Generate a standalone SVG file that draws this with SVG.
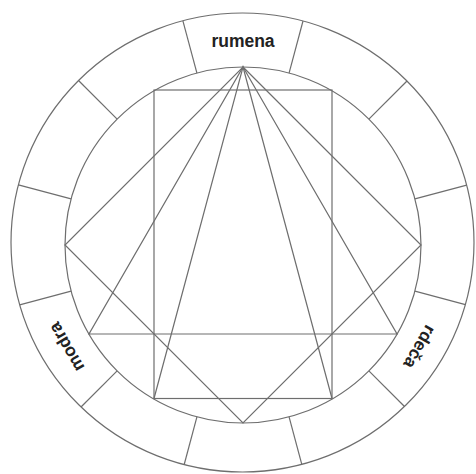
<svg xmlns="http://www.w3.org/2000/svg" width="476" height="474" viewBox="0 0 476 474">
<style>
.l{fill:none;stroke:#6e6e6e;stroke-width:1.2;stroke-linejoin:miter}
.t{font-family:"Liberation Sans",Arial,sans-serif;font-weight:bold;font-size:17.5px;fill:#222;text-anchor:middle}
</style>
<rect width="476" height="474" fill="#fff"/>
<g id="ring">
<ellipse class="l" cx="242.5" cy="242.5" rx="231.5" ry="229.5"/>
<circle class="l" cx="243" cy="245" r="178"/>
</g>
<g id="dividers">
<line class="l" x1="289.07" y1="73.07" x2="303.0" y2="21.0"/>
<line class="l" x1="368.86" y1="119.14" x2="407.0" y2="81.0"/>
<line class="l" x1="414.93" y1="198.93" x2="466.7" y2="185.1"/>
<line class="l" x1="414.93" y1="291.07" x2="465.4" y2="304.6"/>
<line class="l" x1="368.86" y1="370.86" x2="404.5" y2="406.5"/>
<line class="l" x1="289.07" y1="416.93" x2="301.8" y2="464.3"/>
<line class="l" x1="196.93" y1="416.93" x2="184.2" y2="464.5"/>
<line class="l" x1="117.14" y1="370.86" x2="81.0" y2="407.0"/>
<line class="l" x1="71.07" y1="291.07" x2="19.7" y2="304.8"/>
<line class="l" x1="71.07" y1="198.93" x2="18.4" y2="184.8"/>
<line class="l" x1="117.14" y1="119.14" x2="78.5" y2="80.5"/>
<line class="l" x1="196.93" y1="73.07" x2="182.9" y2="20.8"/>
</g>
<g id="square">
<polygon class="l" points="243,67 421,245 243,423 65,245"/>
</g>
<g id="rectangle">
<rect class="l" x="154" y="90" width="178" height="308.5"/>
</g>
<g id="triangle">
<polygon class="l" points="243,67 397,334 89,334"/>
</g>
<g id="tall-triangle">
<polygon class="l" points="243,67 332,398.5 154,398.5"/>
</g>
<g id="labels">
<text class="t" x="243" y="47">rumena</text>
<text class="t" x="243" y="47" transform="rotate(120 243 245)">rdeča</text>
<text class="t" x="243" y="47" transform="rotate(240 243 245)">modra</text>
</g>
</svg>
